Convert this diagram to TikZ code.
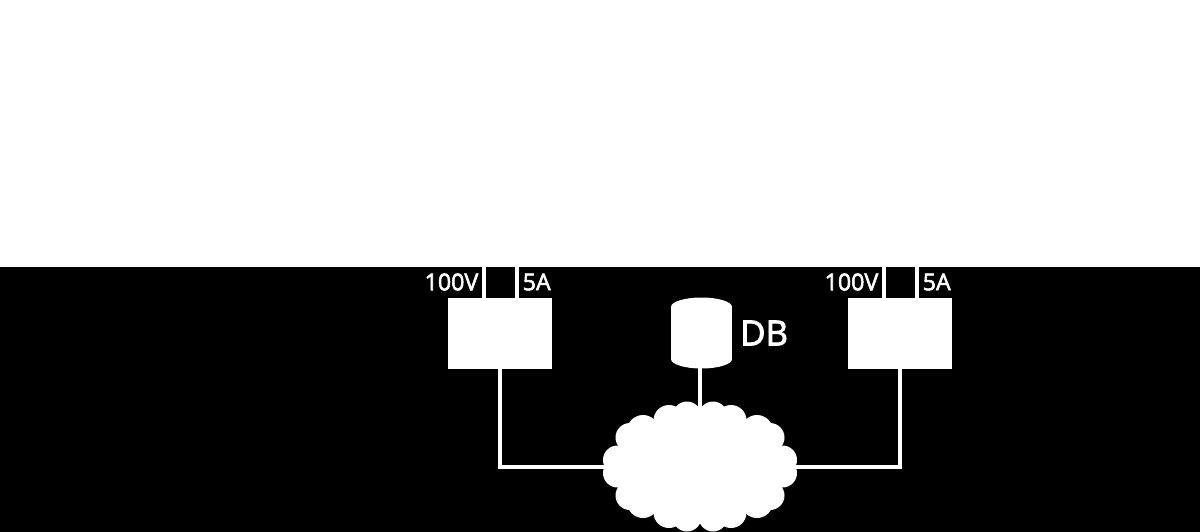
\documentclass[tikz,border=0pt]{standalone}
\usepackage{fontspec}
\setmainfont{Open Sans}[FakeBold=2.5]
\usetikzlibrary{shapes.geometric}
\tikzset{
  x=0.75pt,y=-0.75pt,
  unitbox/.style={fill=white,draw=none,minimum width=78pt,minimum height=53.25pt,inner sep=0pt,outer sep=0pt},
  wire/.style={draw=white,line width=3pt},
  lbl/.style={text=white,font=\fontsize{17.4}{19}\selectfont,inner sep=0pt},
  dbbody/.style={fill=white,draw=none,minimum width=45.75pt,minimum height=39pt,inner sep=0pt,outer sep=0pt},
  netcore/.style={ellipse,fill=white,draw=none,minimum width=127.5pt,minimum height=84pt,inner sep=0pt,outer sep=0pt}
}
\begin{document}
\begin{tikzpicture}
\useasboundingbox (0,0) rectangle (1200,532);
\fill[white] (0,0) rectangle (1200,267);
\fill[black] (0,267) rectangle (1200,532);

% instruments on either side of the database
\node[unitbox] (left) at (500,333.5) {};
\node[unitbox] (right) at (900,333.5) {};

% database drum: straight body with elliptical caps
\node[dbbody] (db) at (701.5,333) {};
\fill[white] (db.north) ellipse (30.5 and 9.5);
\fill[white] (db.south) ellipse (30.5 and 9.5);

% network cloud: a core with puffs mirrored into all four quadrants
\node[netcore] (cloudnet) at (700,466.5) {};
\foreach \sx in {-1,1}{
  \foreach \sy in {-1,1}{
    \foreach \dx/\dy/\r in {13/50.5/14.5, 31/46/15.5, 57/35.5/16, 70/29/14.5, 82.5/6.5/14.5}{
      \fill[white] ([xshift=\sx*\dx*0.75pt,yshift=\sy*\dy*0.75pt]cloudnet.center) circle (\r);
    }
  }
}

% probes running off the top edge of the dark band
\coordinate (lv) at (483.5,267);
\coordinate (la) at (517,267);
\coordinate (rv) at (883.5,267);
\coordinate (ra) at (917,267);
\draw[wire] (lv) -- (lv |- left.north);
\draw[wire] (la) -- (la |- left.north);
\draw[wire] (rv) -- (rv |- right.north);
\draw[wire] (ra) -- (ra |- right.north);

% network links
\coordinate (dbfoot) at (cloudnet.north |- db.south);
\draw[wire] (left.south) |- (cloudnet.west);
\draw[wire] (right.south) |- (cloudnet.east);
\draw[wire] (dbfoot) -- (cloudnet.north);

\node[lbl,anchor=east] (lv1) at (478.5,282) {100V};
\node[lbl,anchor=west] (la1) at (522.5,282) {5A};
\node[lbl,anchor=east] (rv1) at (878.5,282) {100V};
\node[lbl,anchor=west] (ra1) at (922.5,282) {5A};
\node[lbl,anchor=west,font=\fontsize{26}{28}\selectfont] (dbl) at (740,333) {DB};
\end{tikzpicture}
\end{document}
